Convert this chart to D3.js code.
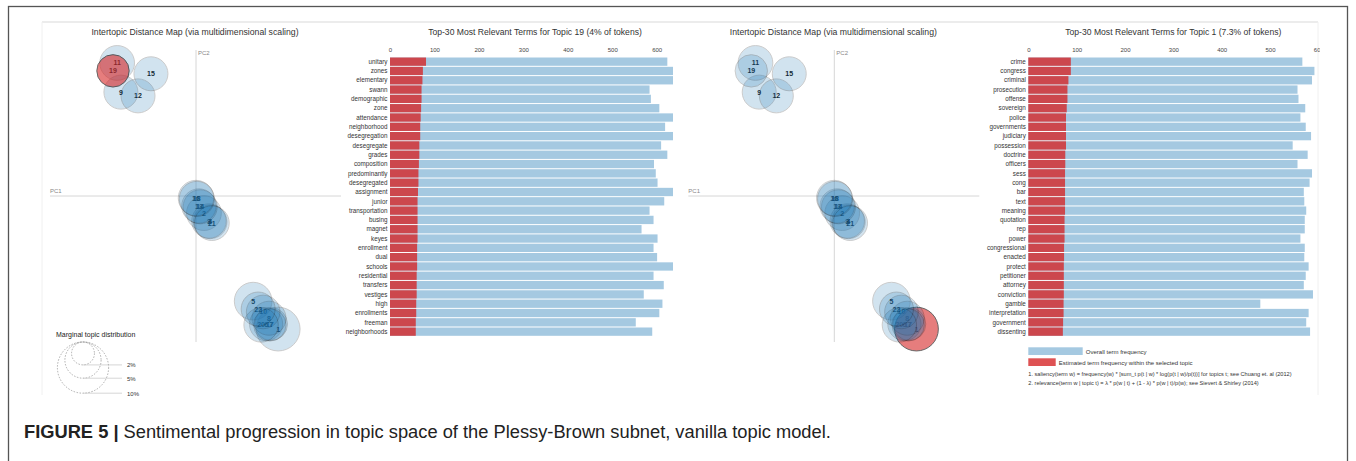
<!DOCTYPE html>
<html><head><meta charset="utf-8">
<script src="https://cdn.jsdelivr.net/npm/d3@7"></script>
<style>
body{margin:0;background:#fff}
svg{display:block;font-family:"Liberation Sans",Arial,Helvetica,sans-serif}
</style>
</head><body>
<svg id="fig" width="1356" height="461"></svg>
<script>
// ---------- DATA ----------
const topicIds  = [1, 2, 3, 4, 5, 6, 7, 8, 9, 10, 11, 12, 13, 14, 15, 16, 17, 18, 19, 20, 21, 22];
const topicPC1  = [0.197, 0.019, 0.031, 0.034, 0.137, 0.168, 0.180, 0.175, -0.180, 0.161, -0.189, -0.139, 0.007, 0.010, -0.108, 0.000, 0.177, 0.002, -0.199, 0.156, 0.038, 0.149];
const topicPC2  = [-0.319, -0.041, -0.060, -0.062, -0.252, -0.307, -0.307, -0.293, 0.249, -0.278, 0.319, 0.240, -0.024, -0.026, 0.293, -0.005, -0.309, -0.007, 0.300, -0.309, -0.065, -0.271];
const topicFreq = [7.3, 4.6, 4.5, 4.3, 5.4, 4.2, 4.1, 4.4, 4.4, 4.3, 4.6, 4.4, 4.5, 4.4, 4.4, 4.8, 4.0, 4.7, 4.0, 4.5, 4.6, 4.4];

const terms19 = ["unitary","zones","elementary","swann","demographic","zone","attendance","neighborhood","desegregation","desegregate","grades","composition","predominantly","desegregated","assignment","junior","transportation","busing","magnet","keyes","enrollment","dual","schools","residential","transfers","vestiges","high","enrollments","freeman","neighborhoods"];
const total19 = [624, 645, 642, 584, 587, 606, 640, 619, 648, 610, 624, 594, 598, 602, 641, 617, 584, 593, 566, 602, 593, 601, 650, 593, 616, 571, 613, 606, 553, 590];
const est19   = [81, 74, 73, 71, 71, 70, 69, 68, 68, 66, 66, 65, 64, 64, 63, 62, 62, 62, 62, 62, 61, 61, 61, 60, 60, 60, 59, 59, 58, 58];

const terms1 = ["crime","congress","criminal","prosecution","offense","sovereign","police","governments","judiciary","possession","doctrine","officers","sess","cong","bar","text","meaning","quotation","rep","power","congressional","enacted","protect","petitioner","attorney","conviction","gamble","interpretation","government","dissenting"];
const total1 = [567, 592, 587, 557, 559, 573, 563, 574, 585, 547, 578, 557, 587, 582, 570, 571, 575, 572, 572, 563, 572, 571, 580, 574, 570, 589, 480, 580, 575, 583];
const est1   = [88, 88, 83, 81, 81, 79.5, 78, 78, 78, 78, 76.5, 76.5, 76, 76, 76, 76, 76, 75, 75, 75, 74, 74, 73.5, 73.5, 73.5, 73.5, 73, 73, 72, 71.5];

const barTicks = [0, 100, 200, 300, 400, 500, 600];
const legendPcts = [2, 5, 10];

// ---------- CONSTANTS ----------
const BLUE = "#1f77b4", RED = "#d62728";
const svg = d3.select("#fig");

const topics = topicIds.map((id, i) => ({id, x: topicPC1[i], y: topicPC2[i], f: topicFreq[i]}));

// figure frame
svg.append("rect").attr("x", 8.5).attr("y", 6.5).attr("width", 1339).attr("height", 470)
  .attr("fill", "none").attr("stroke", "#555").attr("stroke-width", 1.3);

// LDAvis container lines
svg.append("line").attr("x1", 42).attr("x2", 1318).attr("y1", 22).attr("y2", 22).attr("stroke", "#e6e6e6").attr("stroke-width", 1.5);
svg.append("line").attr("x1", 42).attr("x2", 42).attr("y1", 22).attr("y2", 395).attr("stroke", "#f0f0f0");
svg.append("line").attr("x1", 1318).attr("x2", 1318).attr("y1", 22).attr("y2", 395).attr("stroke", "#f0f0f0");

function drawPanel(opts) {
  const g = svg.append("g").attr("transform", `translate(${opts.dx},0)`);
  const clipId = "clip" + opts.sel;
  svg.append("defs").append("clipPath").attr("id", clipId)
    .append("rect").attr("x", 0).attr("y", 0).attr("width", opts.clipX).attr("height", 461);
  const cg = g.append("g").attr("clip-path", `url(#${clipId})`);

  // ---- MDS plot ----
  const xS = d3.scaleLinear().domain([-0.35, 0.35]).range([50, 342]);
  const yS = d3.scaleLinear().domain([-0.35, 0.35]).range([342, 50]);
  const rS = d3.scaleSqrt().domain([0, 10]).range([0, 25.6]);

  cg.append("text").attr("x", 195).attr("y", 35).attr("text-anchor", "middle")
    .attr("font-size", 8.7).attr("fill", "#333").text("Intertopic Distance Map (via multidimensional scaling)");

  cg.append("line").attr("x1", xS(-0.35)).attr("x2", xS(0.35) - 1).attr("y1", yS(0)).attr("y2", yS(0))
    .attr("stroke", "#d6d6d6").attr("stroke-width", 1);
  cg.append("line").attr("x1", xS(0)).attr("x2", xS(0)).attr("y1", yS(0.35)).attr("y2", yS(-0.35))
    .attr("stroke", "#d6d6d6").attr("stroke-width", 1);
  cg.append("text").attr("x", xS(-0.35)).attr("y", yS(0) - 3).attr("font-size", 6).attr("fill", "#888").text("PC1");
  cg.append("text").attr("x", xS(0) + 2).attr("y", yS(0.35) + 5).attr("font-size", 6).attr("fill", "#888").text("PC2");

  cg.selectAll("text.tl").data(topics).enter().append("text").attr("class", "tl")
    .attr("x", d => xS(d.x)).attr("y", d => yS(d.y) + 2.5)
    .attr("text-anchor", "middle").attr("font-size", 7).attr("font-weight", "bold").attr("fill", "#111")
    .text(d => d.id);
  cg.selectAll("circle.dot").data(topics).enter().append("circle").attr("class", "dot")
    .attr("cx", d => xS(d.x)).attr("cy", d => yS(d.y)).attr("r", d => rS(d.f))
    .attr("fill", d => d.id === opts.sel ? RED : BLUE)
    .attr("stroke", "black").attr("stroke-width", 1)
    .style("opacity", d => d.id === opts.sel ? 0.6 : 0.2);

  if (opts.sizeLegend) {
    const cx = 83, top = 342;
    cg.append("text").attr("x", 56).attr("y", 337).attr("font-size", 7).attr("fill", "#222").text("Marginal topic distribution");
    legendPcts.forEach(p => {
      const r = rS(p);
      cg.append("circle").attr("cx", cx).attr("cy", top + r).attr("r", r)
        .attr("fill", "none").attr("stroke", "#999").attr("stroke-dasharray", "1.5 1.5").attr("stroke-width", 0.8);
      cg.append("line").attr("x1", cx).attr("x2", 122).attr("y1", top + 2 * r).attr("y2", top + 2 * r)
        .attr("stroke", "#ccc").attr("stroke-width", 0.8);
      cg.append("text").attr("x", 127).attr("y", top + 2 * r + 2.5).attr("font-size", 6).attr("fill", "#333").text(p + "%");
    });
  }

  // ---- Bar chart ----
  const x = d3.scaleLinear().domain([0, opts.xMax]).range([390, 680]);
  const y = d3.scaleBand().domain(opts.terms).range([57, 336.3]).padding(0);
  const rows = opts.terms.map((t, i) => ({t, tot: opts.total[i], est: opts.est[i]}));

  cg.append("text").attr("x", 535).attr("y", 35).attr("text-anchor", "middle")
    .attr("font-size", 8.6).attr("fill", "#333").text(opts.title);

  const ax = cg.append("g").attr("transform", "translate(0,52)")
    .call(d3.axisTop(x).tickValues(barTicks).tickSize(0).tickPadding(0));
  ax.select(".domain").remove();
  ax.selectAll("text").attr("font-size", 6).attr("fill", "#444").attr("font-family", "Liberation Sans, Arial, sans-serif");

  cg.selectAll("rect.tot").data(rows).enter().append("rect").attr("class", "tot")
    .attr("x", x(0)).attr("y", d => y(d.t) + 0.5).attr("height", y.bandwidth() - 1)
    .attr("width", d => x(d.tot) - x(0)).attr("fill", BLUE).style("opacity", 0.4);
  cg.selectAll("rect.est").data(rows).enter().append("rect").attr("class", "est")
    .attr("x", x(0)).attr("y", d => y(d.t) + 0.5).attr("height", y.bandwidth() - 1)
    .attr("width", d => x(d.est) - x(0)).attr("fill", RED).style("opacity", 0.8);
  cg.selectAll("text.term").data(rows).enter().append("text").attr("class", "term")
    .attr("x", x(0) - 2.5).attr("y", d => y(d.t) + y.bandwidth() / 2 + 2.2)
    .attr("text-anchor", "end").attr("font-size", 6.3).attr("fill", "#333").text(d => d.t);

  if (opts.barLegend) {
    cg.append("rect").attr("x", 390).attr("y", 347.3).attr("width", 54.4).attr("height", 7.7).attr("fill", BLUE).style("opacity", 0.4);
    cg.append("text").attr("x", 447.5).attr("y", 353.5).attr("font-size", 6).attr("fill", "#333").text("Overall term frequency");
    cg.append("rect").attr("x", 390).attr("y", 358.3).attr("width", 27.4).attr("height", 7.7).attr("fill", RED).style("opacity", 0.8);
    cg.append("text").attr("x", 420.5).attr("y", 364.5).attr("font-size", 6).attr("fill", "#333").text("Estimated term frequency within the selected topic");
    cg.append("text").attr("x", 390).attr("y", 376.3).attr("font-size", 5.6).attr("fill", "#333")
      .text("1. saliency(term w) = frequency(w) * [sum_t p(t | w) * log(p(t | w)/p(t))] for topics t; see Chuang et. al (2012)");
    cg.append("text").attr("x", 390).attr("y", 384.6).attr("font-size", 5.6).attr("fill", "#333")
      .text("2. relevance(term w | topic t) = \u03bb * p(w | t) + (1 - \u03bb) * p(w | t)/p(w); see Sievert & Shirley (2014)");
  }
}

drawPanel({dx: 0, sel: 19, clipX: 673, xMax: 652.5, terms: terms19, total: total19, est: est19,
  title: "Top-30 Most Relevant Terms for Topic 19 (4% of tokens)", sizeLegend: true, barLegend: false});
drawPanel({dx: 638.3, sel: 1, clipX: 681.5, xMax: 600, terms: terms1, total: total1, est: est1,
  title: "Top-30 Most Relevant Terms for Topic 1 (7.3% of tokens)", sizeLegend: false, barLegend: true});

// caption
const cap = svg.append("text").attr("x", 24).attr("y", 438).attr("font-size", 18.3).attr("fill", "#222");
cap.append("tspan").attr("font-weight", "bold").text("FIGURE 5 |");
cap.append("tspan").text(" Sentimental progression in topic space of the Plessy-Brown subnet, vanilla topic model.");
</script>
</body></html>
